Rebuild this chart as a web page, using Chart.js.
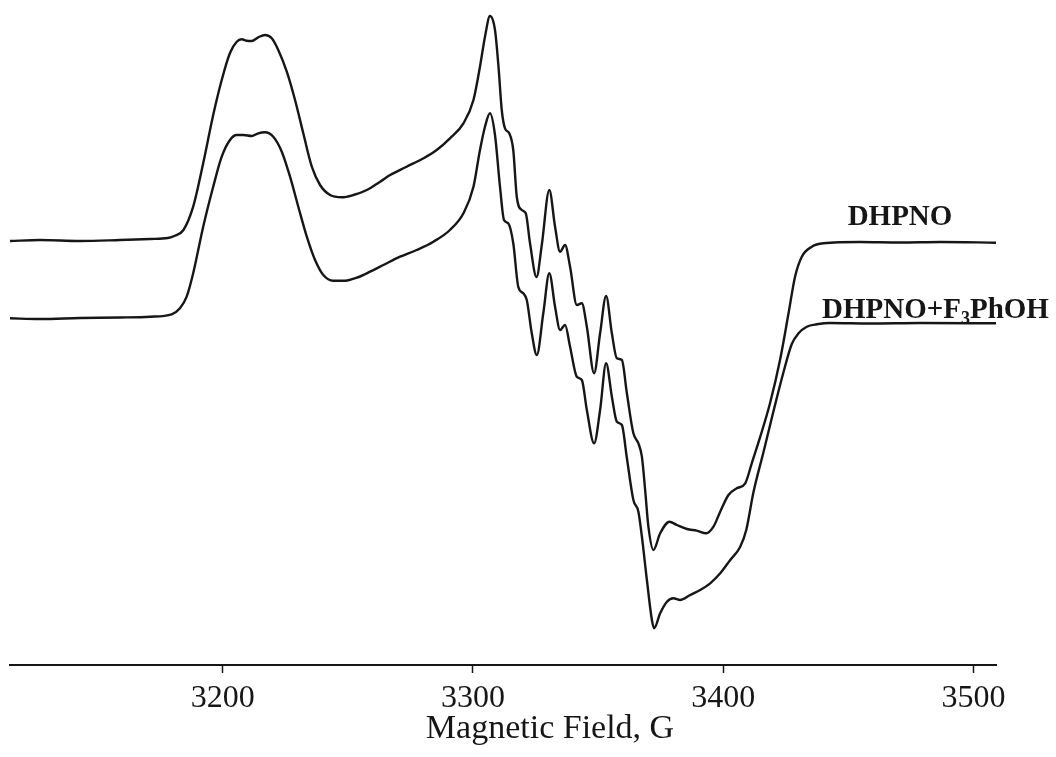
<!DOCTYPE html>
<html>
<head>
<meta charset="utf-8">
<title>EPR spectra</title>
<script src="https://cdn.jsdelivr.net/npm/chart.js@4.4.1/dist/chart.umd.min.js"></script>
<style>
    html, body { margin: 0; padding: 0; background: #fff; }
    canvas { display: block; }
</style>
</head>
<body>
<canvas id="eprChart" width="1056" height="757"></canvas>
<script>
// Field axis (G)
const fieldMin = 3115;
const fieldMax = 3509;
const fieldTicks = [3200, 3300, 3400, 3500];

// DHPNO spectrum, signal in arbitrary units (stacked, offset included)
const dhpnoField = [3115.0, 3127.0, 3143.0, 3159.0, 3171.0, 3178.1, 3180.9, 3184.3, 3188.2, 3192.2,
    3196.2, 3199.6, 3202.9, 3205.6, 3207.6, 3209.6, 3211.6, 3214.2, 3216.9, 3219.6,
    3222.2, 3225.6, 3228.9, 3232.2, 3235.6, 3238.9, 3242.9, 3247.6, 3252.2, 3257.6,
    3262.9, 3266.9, 3273.5, 3280.2, 3285.5, 3290.8, 3296.2, 3300.2, 3302.8, 3304.8,
    3306.8, 3308.8, 3310.2, 3311.5, 3312.8, 3314.5, 3316.1, 3317.5, 3319.5, 3321.1,
    3322.8, 3325.4, 3327.5, 3330.5, 3332.8, 3334.8, 3336.8, 3338.8, 3341.5, 3343.5,
    3345.5, 3348.4, 3350.8, 3353.2, 3355.5, 3357.5, 3359.5, 3361.5, 3364.1, 3366.1,
    3367.5, 3368.8, 3370.1, 3372.1, 3374.8, 3378.5, 3381.5, 3385.5, 3389.4, 3393.2,
    3396.1, 3398.8, 3402.1, 3405.4, 3408.8, 3411.4, 3414.8, 3418.7, 3422.7, 3426.1,
    3428.7, 3431.4, 3435.4, 3440.0, 3454.7, 3470.7, 3486.7, 3509.0];
const dhpnoSignal = [424, 425, 424, 425, 426, 427, 429.3, 435, 458.3, 501.7,
    550, 585, 612, 623.3, 625.7, 624.3, 624, 627.7, 630, 626.7,
    615, 593.3, 565, 531.7, 498.3, 480, 470, 467.7, 470, 475,
    483.3, 490, 498.3, 506.7, 515, 526.7, 541.7, 565, 598.3, 628.3,
    649, 635, 598.3, 555, 536.7, 531.7, 515, 468.3, 455, 451.7,
    421.7, 388, 420, 475, 438.3, 413.3, 420, 398.3, 360, 361.7,
    338.3, 291.7, 331.7, 369, 331.7, 306.7, 305, 271.7, 231.7, 221.7,
    208.3, 175, 138.3, 115, 131.7, 143.3, 140, 136, 134.3, 131.7,
    138.3, 153.3, 170, 176.7, 181.7, 201.7, 228.3, 261.7, 305, 351.7,
    388.3, 408.3, 418.3, 421.7, 423, 422.5, 423, 422.3];

// DHPNO + F3PhOH spectrum
const mixField = [3115.0, 3127.0, 3143.0, 3159.0, 3171.0, 3179.6, 3182.9, 3185.6, 3188.2, 3192.2,
    3196.2, 3199.6, 3202.9, 3205.6, 3208.2, 3211.6, 3214.2, 3216.9, 3220.2, 3223.6,
    3226.9, 3230.2, 3233.6, 3236.9, 3240.2, 3244.2, 3248.9, 3253.6, 3258.9, 3264.2,
    3270.9, 3277.5, 3284.2, 3290.8, 3296.2, 3300.2, 3302.8, 3304.8, 3306.8, 3308.8,
    3310.8, 3312.4, 3314.1, 3316.1, 3318.1, 3320.1, 3321.5, 3323.5, 3325.5, 3328.1,
    3330.5, 3332.8, 3334.8, 3336.8, 3338.8, 3341.5, 3343.5, 3345.5, 3348.4, 3350.8,
    3353.2, 3355.5, 3357.5, 3359.5, 3361.5, 3364.1, 3366.1, 3367.5, 3369.5, 3371.5,
    3372.4, 3374.8, 3377.5, 3380.1, 3382.8, 3386.8, 3390.8, 3394.8, 3398.8, 3402.8,
    3406.8, 3409.2, 3412.1, 3416.1, 3420.1, 3424.1, 3427.4, 3430.1, 3433.4, 3437.4,
    3442.7, 3458.7, 3478.7, 3509.0];
const mixSignal = [346.7, 346, 347, 347.5, 348.3, 350.7, 356.7, 368.3, 391.7, 438.3,
    478.3, 508.3, 525, 530, 530, 529, 531.7, 532.7, 528.3, 513.3,
    488.3, 458.3, 428.3, 405, 390, 384.3, 384.3, 387.3, 393.3, 400,
    408.3, 415, 423.3, 435, 451.7, 478.3, 515, 538.3, 551.7, 530,
    478.3, 445, 441.7, 421.7, 378.3, 371.7, 365, 331.7, 310, 351.7,
    391.7, 358.3, 335, 340, 318.3, 288.3, 285, 255, 221.7, 255,
    301.7, 268.3, 243.3, 240, 207, 165, 153.3, 128.3, 85, 45,
    36.7, 51.7, 63.3, 66.7, 65, 70, 75, 81.7, 91.7, 105,
    118.3, 135, 173, 213, 254, 293, 321, 331.7, 338.3, 340.7,
    342, 341.5, 342, 341.7];

const signalMax = 665;

const serif = '"Liberation Serif", "Times New Roman", serif';
const ink = '#161616';

const toPoints = (xs, ys) => xs.map((x, i) => ({ x: x, y: ys[i] }));

// trace labels + axis title drawn straight on the canvas (needs a subscript)
const annotations = {
    id: 'annotations',
    afterDraw(chart) {
        const ctx = chart.ctx;
        ctx.save();
        ctx.fillStyle = ink;
        ctx.textBaseline = 'alphabetic';

        ctx.font = 'bold 29px ' + serif;
        ctx.textAlign = 'center';
        ctx.fillText('DHPNO', 900, 225);

        // DHPNO+F3PhOH with subscript 3
        ctx.textAlign = 'left';
        let x = 822;
        const y = 318;
        ctx.font = 'bold 29px ' + serif;
        ctx.fillText('DHPNO+F', x, y);
        x += ctx.measureText('DHPNO+F').width;
        ctx.font = 'bold 18px ' + serif;
        ctx.fillText('3', x, y + 6);
        x += ctx.measureText('3').width;
        ctx.font = 'bold 29px ' + serif;
        ctx.fillText('PhOH', x, y);

        ctx.font = '34px ' + serif;
        ctx.textAlign = 'center';
        ctx.fillText('Magnetic Field, G', 550, 738);
        ctx.restore();
    }
};

const ctx = document.getElementById('eprChart').getContext('2d');

new Chart(ctx, {
    type: 'line',
    data: {
        datasets: [
            {
                label: 'DHPNO',
                data: toPoints(dhpnoField, dhpnoSignal),
                borderColor: ink,
                borderWidth: 2.4,
                pointRadius: 0,
                fill: false,
                cubicInterpolationMode: 'monotone'
            },
            {
                label: 'DHPNO+F3PhOH',
                data: toPoints(mixField, mixSignal),
                borderColor: ink,
                borderWidth: 2.4,
                pointRadius: 0,
                fill: false,
                cubicInterpolationMode: 'monotone'
            }
        ]
    },
    options: {
        responsive: false,
        animation: false,
        layout: { padding: { left: 10, right: 60, top: 0, bottom: 0 } },
        plugins: {
            legend: { display: false },
            tooltip: { enabled: false }
        },
        scales: {
            x: {
                type: 'linear',
                min: fieldMin,
                max: fieldMax,
                afterBuildTicks: scale => {
                    scale.ticks = fieldTicks.map(v => ({ value: v }));
                },
                afterFit: scale => { scale.height = 92; },
                ticks: {
                    color: ink,
                    padding: 6,
                    font: { family: serif, size: 32 },
                    callback: v => String(v)
                },
                grid: {
                    drawOnChartArea: false,
                    drawTicks: true,
                    tickLength: 8,
                    tickWidth: 1.5,
                    tickColor: ink
                },
                border: { color: ink, width: 2 }
            },
            y: {
                display: false,
                min: 0,
                max: signalMax
            }
        }
    },
    plugins: [annotations]
});
</script>
</body>
</html>
